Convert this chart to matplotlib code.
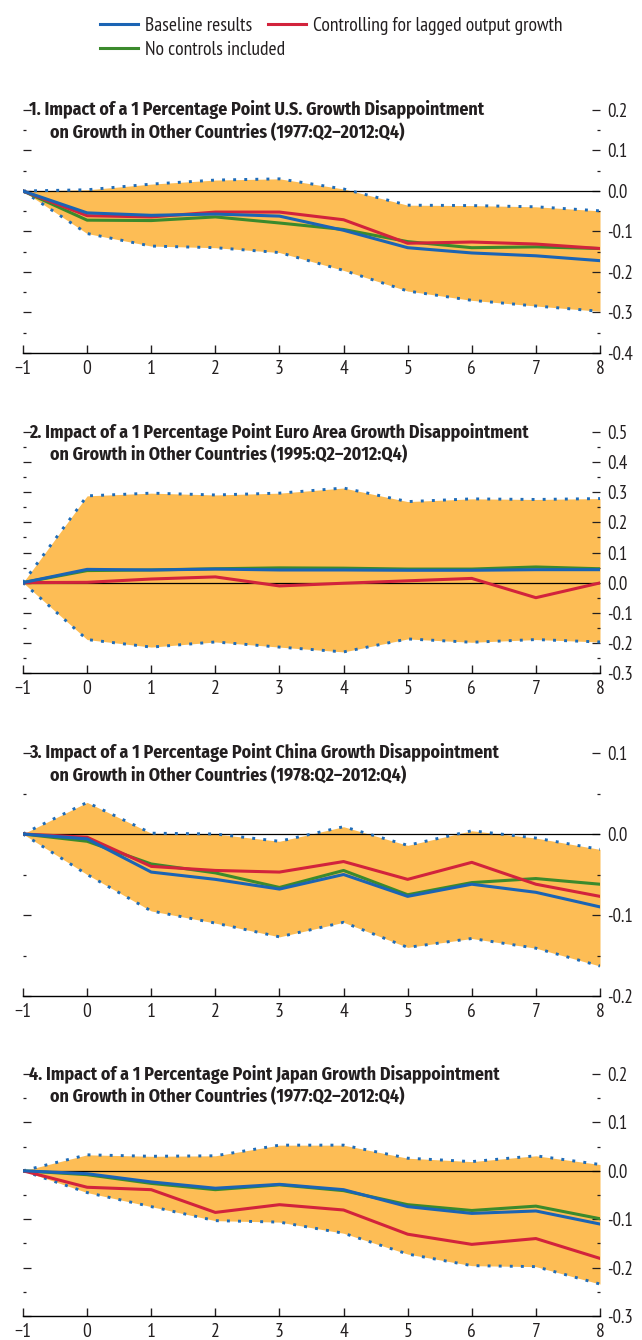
import numpy as np
import matplotlib
matplotlib.use("Agg")
import matplotlib.pyplot as plt
from matplotlib.lines import Line2D
from matplotlib.ticker import MultipleLocator, FormatStrFormatter

plt.rcParams['font.family'] = ['PT Sans Narrow', 'DejaVu Sans']
title_font = ['Fira Sans Condensed', 'PT Sans Narrow', 'DejaVu Sans']

# ---------------------------
# DATA
# ---------------------------
horizon = [-1, 0, 1, 2, 3, 4, 5, 6, 7, 8]

titles = [
    ("1. Impact of a 1 Percentage Point U.S. Growth Disappointment",
     "on Growth in Other Countries (1977:Q2\u20132012:Q4)"),
    ("2. Impact of a 1 Percentage Point Euro Area Growth Disappointment",
     "on Growth in Other Countries (1995:Q2\u20132012:Q4)"),
    ("3. Impact of a 1 Percentage Point China Growth Disappointment",
     "on Growth in Other Countries (1978:Q2\u20132012:Q4)"),
    ("4. Impact of a 1 Percentage Point Japan Growth Disappointment",
     "on Growth in Other Countries (1977:Q2\u20132012:Q4)"),
]

# panel 1: U.S.
us_upper = [0, 0.003, 0.017, 0.027, 0.030, 0.005, -0.035, -0.036, -0.039, -0.049]
us_lower = [0, -0.105, -0.136, -0.140, -0.152, -0.196, -0.247, -0.270, -0.284, -0.297]
us_base = [0, -0.054, -0.060, -0.057, -0.062, -0.097, -0.140, -0.153, -0.160, -0.172]
us_lagged = [0, -0.061, -0.064, -0.052, -0.052, -0.071, -0.129, -0.126, -0.131, -0.142]
us_nocontrol = [0, -0.072, -0.073, -0.064, -0.079, -0.095, -0.125, -0.140, -0.138, -0.142]

# panel 2: euro area
ea_upper = [0, 0.288, 0.297, 0.291, 0.297, 0.314, 0.269, 0.278, 0.276, 0.279]
ea_lower = [0, -0.189, -0.214, -0.197, -0.214, -0.230, -0.187, -0.198, -0.189, -0.197]
ea_base = [0, 0.044, 0.042, 0.045, 0.042, 0.042, 0.041, 0.041, 0.043, 0.043]
ea_lagged = [0, 0.001, 0.012, 0.019, -0.011, -0.002, 0.006, 0.014, -0.050, -0.001]
ea_nocontrol = [0, 0.040, 0.042, 0.046, 0.049, 0.048, 0.045, 0.045, 0.052, 0.046]

# panel 3: China
cn_upper = [0, 0.039, 0.001, 0.000, -0.009, 0.009, -0.014, 0.004, -0.005, -0.019]
cn_lower = [0, -0.050, -0.095, -0.110, -0.127, -0.109, -0.140, -0.129, -0.141, -0.163]
cn_base = [0, -0.006, -0.047, -0.056, -0.068, -0.050, -0.077, -0.062, -0.072, -0.090]
cn_lagged = [0, -0.004, -0.040, -0.045, -0.047, -0.034, -0.056, -0.035, -0.062, -0.077]
cn_nocontrol = [0, -0.009, -0.037, -0.048, -0.066, -0.045, -0.075, -0.060, -0.055, -0.062]

# panel 4: Japan
jp_upper = [0, 0.033, 0.030, 0.031, 0.053, 0.053, 0.026, 0.019, 0.031, 0.013]
jp_lower = [0, -0.045, -0.074, -0.103, -0.106, -0.129, -0.172, -0.196, -0.198, -0.234]
jp_base = [0, -0.006, -0.023, -0.036, -0.028, -0.039, -0.074, -0.088, -0.083, -0.110]
jp_lagged = [0, -0.034, -0.039, -0.086, -0.070, -0.081, -0.131, -0.152, -0.140, -0.181]
jp_nocontrol = [0, -0.008, -0.026, -0.039, -0.029, -0.041, -0.070, -0.082, -0.073, -0.099]

y_limits = [(-0.4, 0.2), (-0.3, 0.5), (-0.2, 0.1), (-0.3, 0.2)]

panels = [
    (us_upper, us_lower, us_base, us_lagged, us_nocontrol),
    (ea_upper, ea_lower, ea_base, ea_lagged, ea_nocontrol),
    (cn_upper, cn_lower, cn_base, cn_lagged, cn_nocontrol),
    (jp_upper, jp_lower, jp_base, jp_lagged, jp_nocontrol),
]

# colours
c_blue = '#1b64b4'
c_red = '#d2233c'
c_green = '#3b8a2c'
c_band = '#fdbd55'
c_dots = '#1f6cb8'
c_text = '#231f20'

# ---------------------------
# PLOTTING
# ---------------------------
fig = plt.figure(figsize=(6.42, 13.4), dpi=100)

# axes boxes in pixels (left, top, right, bottom)
boxes = [(23, 110, 600, 353), (23, 432, 600, 673), (23, 753, 600, 996), (23, 1074, 600, 1316)]
W, H = 642, 1340

for i, (upper, lower, base, lagged, nocontrol) in enumerate(panels):
    l, t, r, b = boxes[i]
    ax = fig.add_axes([l / W, 1 - b / H, (r - l) / W, (b - t) / H])

    ax.fill_between(horizon, lower, upper, color=c_band, lw=0, zorder=1)
    ax.axhline(0, color='black', lw=0.9, zorder=2)
    for band in (upper, lower):
        ax.plot(horizon, band, color=c_dots, lw=2.1, linestyle=(0, (1, 2.8)),
                dash_capstyle='butt', zorder=3)
    ax.plot(horizon, nocontrol, color=c_green, lw=2.2, zorder=4)
    ax.plot(horizon, lagged, color=c_red, lw=2.2, zorder=5)
    ax.plot(horizon, base, color=c_blue, lw=2.2, zorder=6)

    ax.set_xlim(-1, 8)
    ax.set_ylim(*y_limits[i])
    ax.set_xticks(horizon)
    ax.yaxis.set_major_locator(MultipleLocator(0.1))
    ax.yaxis.set_minor_locator(MultipleLocator(0.05))
    ax.yaxis.set_major_formatter(FormatStrFormatter('%.1f'))

    for s in ('top', 'left', 'right'):
        ax.spines[s].set_visible(False)
    ax.spines['bottom'].set_linewidth(1.0)
    ax.patch.set_alpha(0)

    ax.tick_params(axis='x', direction='in', length=6, width=1.0, labelsize=14,
                   pad=5, colors=c_text)
    ax.tick_params(axis='y', which='both', direction='in', left=True, right=True,
                   labelleft=False, labelright=True, labelsize=13.5, colors=c_text)
    ax.tick_params(axis='y', which='major', length=6, width=0.9, pad=5)
    ax.tick_params(axis='y', which='minor', length=2.5, width=0.9)

    line1, line2 = titles[i]
    ax.annotate(line1, xy=(0, 1), xycoords='axes fraction', xytext=(6, 0),
                textcoords='offset pixels', va='center', ha='left', family=title_font,
                fontsize=12.9, fontweight='bold', color=c_text)
    ax.annotate(line2, xy=(0, 1), xycoords='axes fraction', xytext=(27, -23),
                textcoords='offset pixels', va='center', ha='left', family=title_font,
                fontsize=12.9, fontweight='bold', color=c_text)

# legend: two rows laid out like the original (not a column grid)
h_base = Line2D([], [], color=c_blue, lw=2.2, label='Baseline results')
h_lag = Line2D([], [], color=c_red, lw=2.2, label='Controlling for lagged output growth')
h_none = Line2D([], [], color=c_green, lw=2.2, label='No controls included')
leg_kw = dict(loc='upper left', frameon=False, fontsize=14, handlelength=1.96,
              handletextpad=0.36, columnspacing=0.8, borderpad=0, labelcolor=c_text)
fig.legend(handles=[h_base, h_lag], ncol=2, bbox_to_anchor=(90 / W, 1 - 7 / H), **leg_kw)
fig.legend(handles=[h_none], ncol=1, bbox_to_anchor=(90 / W, 1 - 31 / H), **leg_kw)

fig.savefig('out.png', dpi=100)
